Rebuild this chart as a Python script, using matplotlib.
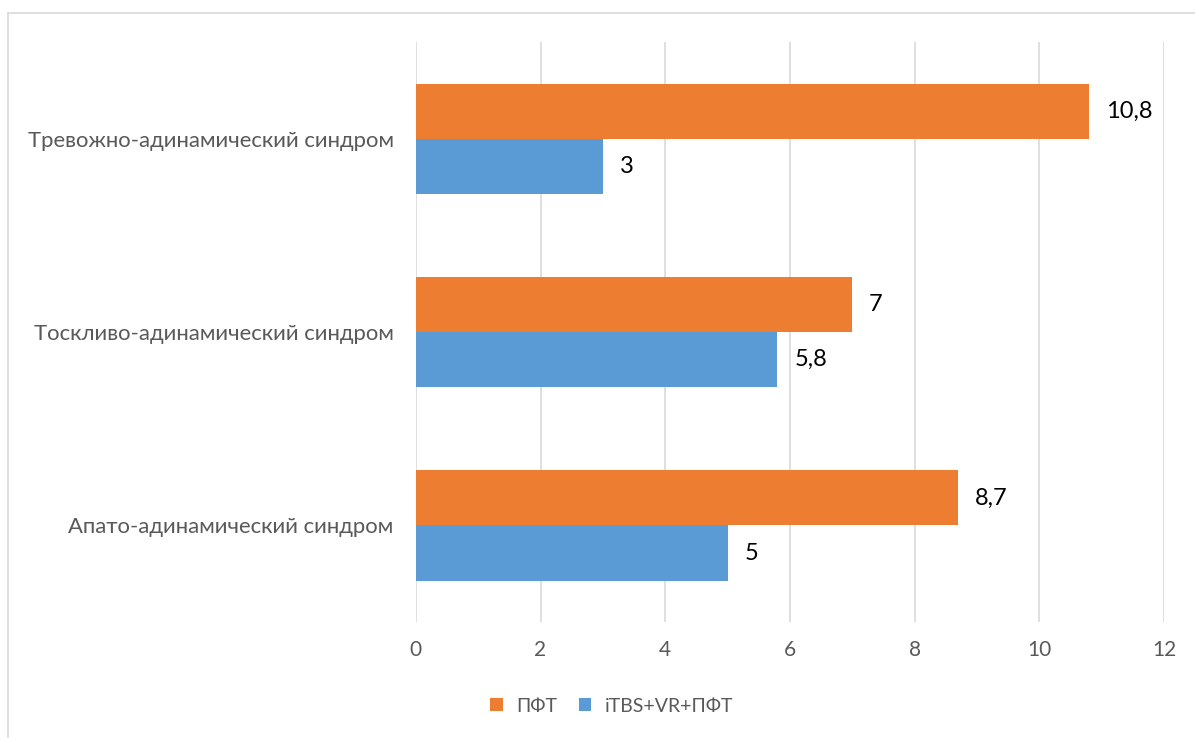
import matplotlib.pyplot as plt
from matplotlib.lines import Line2D
import numpy as np

plt.rcParams['font.family'] = ['Lato', 'DejaVu Sans']

categories = ['Апато-адинамический синдром', 'Тоскливо-адинамический синдром',
              'Тревожно-адинамический синдром']
pft = [8.7, 7, 10.8]
itbs = [5, 5.8, 3]
pft_labels = ['8,7', '7', '10,8']
itbs_labels = ['5', '5,8', '3']

fig = plt.figure(figsize=(11.95, 7.38), dpi=100)
ax = fig.add_axes([0.348, 0.157, 0.626, 0.786])

y = np.arange(len(categories))
h = 0.285
b1 = ax.barh(y + h / 2, pft, height=h, color='#ED7D31', label='ПФТ', zorder=3)
b2 = ax.barh(y - h / 2, itbs, height=h, color='#5B9BD5', label='iTBS+VR+ПФТ', zorder=3)

for bar, lab in zip(b1, pft_labels):
    ax.text(bar.get_width() + 0.27, bar.get_y() + bar.get_height() / 2, lab,
            va='center', ha='left', fontsize=17, color='black')
for bar, lab in zip(b2, itbs_labels):
    ax.text(bar.get_width() + 0.27, bar.get_y() + bar.get_height() / 2, lab,
            va='center', ha='left', fontsize=17, color='black')

ax.set_xlim(0, 12)
ax.set_ylim(-0.5, 2.5)
ax.set_xticks(range(0, 13, 2))
ax.set_yticks(y)
ax.set_yticklabels(categories, fontsize=15.9)
ax.tick_params(axis='x', length=0, labelsize=15, colors='#595959', pad=13)
ax.tick_params(axis='y', length=0, colors='#595959', pad=16)
ax.grid(axis='x', color='#D9D9D9', linewidth=1.2, zorder=0)
for s in ax.spines.values():
    s.set_visible(False)

ax.legend(loc='center', bbox_to_anchor=(0.512, 0.043), bbox_transform=fig.transFigure,
          ncol=2, frameon=False, fontsize=14, handlelength=0.65, handleheight=0.65,
          columnspacing=1.1, handletextpad=0.7, labelcolor='#595959')

# outer chart border
fig.add_artist(Line2D([8 / 1195, 8 / 1195], [0, 1 - 13 / 738], color='#D9D9D9', lw=1.2))
fig.add_artist(Line2D([8 / 1195, 1], [1 - 13 / 738, 1 - 13 / 738], color='#D9D9D9', lw=1.2))

fig.savefig('out.png', dpi=100)
